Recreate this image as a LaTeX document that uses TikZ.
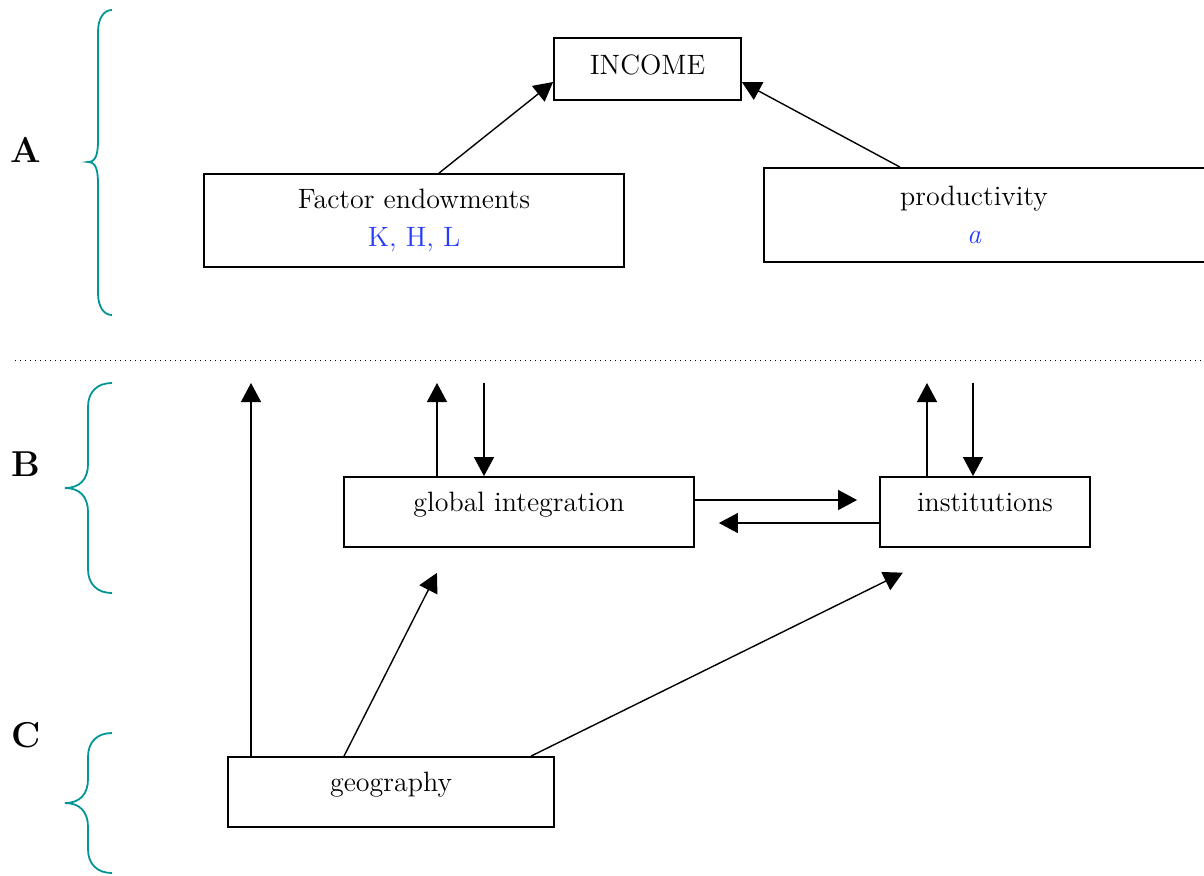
\documentclass[tikz,border=0pt]{standalone}
\usepackage{tikz}
\usetikzlibrary{arrows.meta}
\definecolor{braceteal}{RGB}{0,150,150}
\definecolor{varblue}{RGB}{40,60,255}

\begin{document}
\begin{tikzpicture}[x=0.5pt, y=-0.5pt, font=\fontsize{14}{19}\selectfont,
	box/.style = {draw, line width=0.9pt, inner sep=0pt, align=center},
	arr/.style = {-{Triangle[length=9.5pt,width=10pt]}, line width=0.7pt},
	brc/.style = {draw=braceteal, line width=0.9pt},
	lbl/.style = {font=\fontsize{18}{20}\selectfont\bfseries}]
	\useasboundingbox (0,0) rectangle (1204,875);
	\clip (0,0) rectangle (1204,875);
	% part A
	\node[box, minimum width=93.5pt, minimum height=31pt, text depth=4pt] (inc) at (647.5,69) {INCOME};
	\node[box, minimum width=210pt, minimum height=46.5pt] (fe) at (414,220.5) {Factor endowments\\{\color{varblue}K, H, L}};
	\node[box, minimum width=230pt, minimum height=47pt] (prod) at (994,215) {\hspace*{-20pt}productivity\\\hspace*{-20pt}{\color{varblue}\itshape a}};
	\draw[arr] (fe.north -| 439,0) -- (inc.west |- 0,82);
	\draw[arr] (prod.north -| 900,0) -- (inc.east |- 0,82);
	\draw[dotted, line width=0.5pt] (15,360) -- (1204,360);
	% part B
	\node[box, minimum width=175pt, minimum height=35pt, text depth=10pt] (gi) at (519,512) {global integration};
	\node[box, minimum width=105pt, minimum height=35pt, text depth=10pt] (inst) at (985,512) {institutions};
	\coordinate (t1) at (251,383);
	\coordinate (t2) at (437,383);
	\coordinate (t3) at (484,383);
	\coordinate (t4) at (927,383);
	\coordinate (t5) at (973,383);
	\draw[arr] (gi.north -| t2) -- (t2);
	\draw[arr] (t3) -- (gi.north -| t3);
	\draw[arr] (inst.north -| t4) -- (t4);
	\draw[arr] (t5) -- (inst.north -| t5);
	\draw[arr, shorten >=11pt] (gi.east |- 0,500) -- (inst.west |- 0,500);
	\draw[arr, shorten >=12pt] (inst.west |- 0,523) -- (gi.east |- 0,523);
	% part C
	\node[box, minimum width=163pt, minimum height=35pt, text depth=10pt] (geo) at (391,792) {geography};
	\draw[arr] (geo.north -| t1) -- (t1);
	\draw[arr, shorten >=14pt] (geo.north -| 344,0) -- (gi.south -| 449.6,0);
	\draw[arr, shorten >=28pt] (geo.north -| 531,0) -- (inst.south -| 953,0);
	% braces
	\draw[brc] (112,10) .. controls (104,10) and (98,18) .. (98,32) -- (98,140) .. controls (98,154) and (96,162) .. (88,162)
		.. controls (96,162) and (98,170) .. (98,184) -- (98,293) .. controls (98,307) and (104,315) .. (112,315);
	\draw[brc] (112,383) .. controls (97,383) and (88,392) .. (88,407) -- (88,464) .. controls (88,479) and (80,488) .. (65,488)
		.. controls (80,488) and (88,497) .. (88,512) -- (88,569) .. controls (88,584) and (97,593) .. (112,593);
	\draw[brc] (112,733) .. controls (97,733) and (88,742) .. (88,757) -- (88,779) .. controls (88,794) and (80,803) .. (65,803)
		.. controls (80,803) and (88,812) .. (88,827) -- (88,849) .. controls (88,864) and (97,873) .. (112,873);
	\node[lbl] (la) at (26,150) {A};
	\node[lbl] (lb) at (26,464) {B};
	\node[lbl] (lc) at (26,735) {C};
\end{tikzpicture}
\end{document}
